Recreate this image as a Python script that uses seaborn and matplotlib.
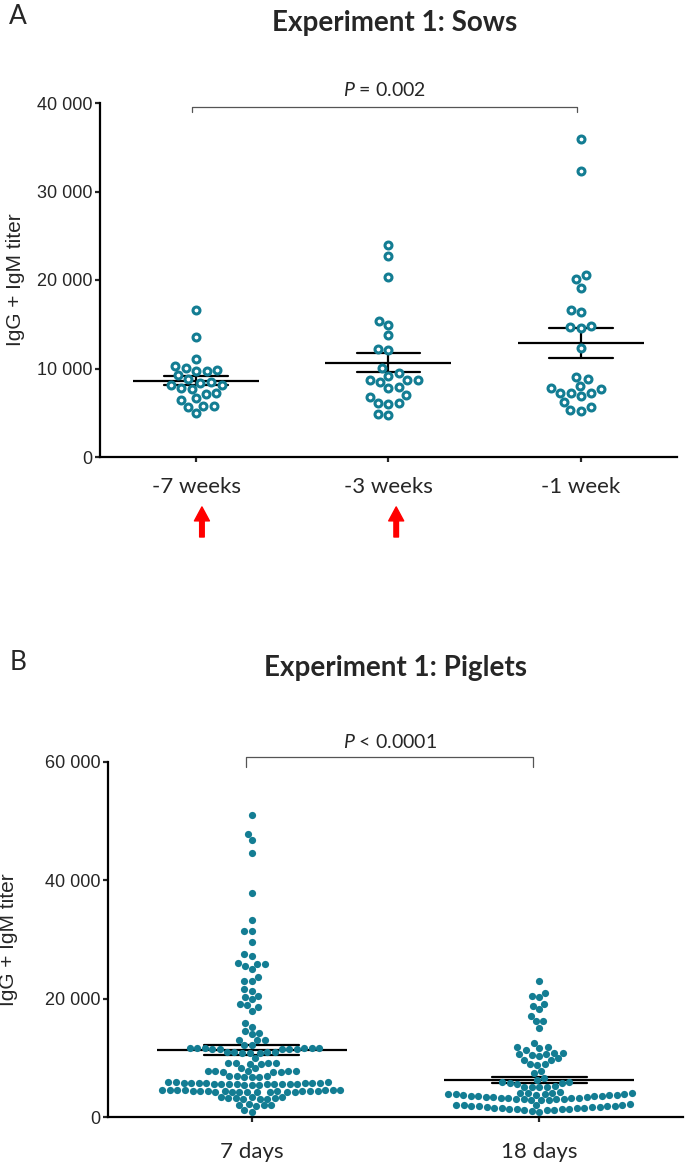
import matplotlib

matplotlib.use("Agg")
import matplotlib.pyplot as plt
import numpy as np
import pandas as pd
import seaborn as sns

TEAL = "#137d93"
GREY = "#555555"

# --------------------------------------------------------------------------- #
# Data
# --------------------------------------------------------------------------- #
sow_groups = ["-7 weeks", "-3 weeks", "-1 week"]
sows_m7 = [16611, 13522, 11036, 10320, 10094, 9831, 9755, 9700, 9266, 8776,
           8512, 8323, 8136, 8100, 7759, 7720, 7194, 7150, 6704, 6441,
           5800, 5760, 5687, 4934]
sows_m3 = [23918, 22713, 20378, 15330, 14953, 13822, 12167, 12091, 10094, 9455,
           9191, 8701, 8680, 8650, 8512, 7947, 7834, 6968, 6817, 6139,
           6064, 5989, 4821, 4790]
sows_m1 = [35934, 32356, 20566, 20076, 19058, 16611, 16348, 14841, 14652, 14610,
           12355, 9077, 8814, 8060, 7759, 7646, 7269, 7230, 7194, 6931,
           6215, 5612, 5311, 5198]
sows_yticks = [0, 10000, 20000, 30000, 40000]

piglet_groups = ["7 days", "18 days"]
piglets_d7 = [51097, 47827, 46813, 44616, 37856, 33349, 31491, 31400, 29518, 27547,
              27265, 25969, 25930, 25890, 25575, 25012, 23717, 22984, 22940, 21577,
              21352, 20449, 20336, 19886, 19097, 18928, 18534, 17972, 15940, 15266,
              14591, 14140, 13971, 13013, 12990, 12950, 12168, 12100,
              11700, 11680, 11650, 11630, 11610, 11590, 11570, 11550, 11530, 11510, 11490,
              11000, 10970, 10940, 10910, 10880, 10850, 10820, 9914,
              9150, 9120, 9090, 9060, 9030, 9000, 8250, 8200,
              7800, 7780, 7750, 7720, 7700, 7680, 7650, 7620,
              6950, 6900, 6850, 6800, 6750, 6700,
              5910, 5870, 5860, 5820, 5790, 5780, 5750, 5720, 5710, 5680, 5660,
              5650, 5630, 5600, 5590, 5560, 5540, 5530, 5500, 5480, 5470, 5440,
              4610, 4580, 4570, 4540, 4510, 4490, 4480, 4450, 4430, 4410, 4400, 4370,
              4360, 4340, 4310, 4300, 4280, 4260, 4240, 4230, 4200, 4190, 4160,
              3420, 3350, 3310, 3240, 3200, 3150, 3090, 3050, 2990,
              2210, 2100, 2040, 1970, 1900, 1183, 901]
piglets_d18 = [23040, 21012, 20449, 20223, 19097, 18759, 18197, 17069, 16224, 16180,
               15097, 12562, 11800, 11773, 11740, 11323, 10900, 10872, 10620, 10590,
               10560, 10309, 9914, 9650, 9633, 8930, 8900, 8870, 7829, 7379,
               6647, 6253, 5990, 5971, 5720, 5689, 5660, 5180, 5150, 5126, 5100, 5080,
               4150, 4100, 4050, 4000, 3980, 3950, 3920, 3890,
               3830, 3790, 3740, 3690, 3650, 3600, 3560, 3510, 3470, 3420, 3380, 3330,
               3290, 3240, 3200, 3150, 3110, 3060, 3020, 2970, 2930, 2890, 2860,
               2140, 2090, 2050, 2000, 1960, 1910, 1870, 1820, 1780, 1730, 1690, 1640,
               1600, 1550, 1510, 1460, 1420, 1370, 1330, 1280, 1240, 1190, 1150,
               950, 850]
piglets_yticks = [0, 20000, 40000, 60000]

sows = pd.DataFrame({
    "group": np.repeat(sow_groups, [len(sows_m7), len(sows_m3), len(sows_m1)]),
    "titer": sows_m7 + sows_m3 + sows_m1,
})
piglets = pd.DataFrame({
    "group": np.repeat(piglet_groups, [len(piglets_d7), len(piglets_d18)]),
    "titer": piglets_d7 + piglets_d18,
})

# --------------------------------------------------------------------------- #
# Style
# --------------------------------------------------------------------------- #
sns.set_theme(style="ticks")
plt.rcParams["font.family"] = ["Liberation Sans", "DejaVu Sans"]
plt.rcParams["mathtext.fontset"] = "custom"
plt.rcParams["mathtext.rm"] = "Lato"
plt.rcParams["mathtext.it"] = "Lato:italic"
plt.rcParams["axes.linewidth"] = 1.6
plt.rcParams["xtick.major.width"] = 1.6
plt.rcParams["ytick.major.width"] = 1.6
plt.rcParams["xtick.major.size"] = 3.8
plt.rcParams["ytick.major.size"] = 3.8
plt.rcParams["axes.edgecolor"] = "black"

W, H = 685, 1163
fig = plt.figure(figsize=(W / 100, H / 100), dpi=100)


def fmt(v):
    return f"{int(v):,}".replace(",", " ")


def panel(rect, df, order, hollow, yticks, mean_len, dot_size, xpad):
    ax = fig.add_axes(rect)
    if hollow:
        sns.swarmplot(data=df, x="group", y="titer", order=order, ax=ax,
                      color="white", edgecolor=TEAL, linewidth=2.2, size=dot_size)
    else:
        sns.swarmplot(data=df, x="group", y="titer", order=order, ax=ax,
                      color=TEAL, linewidth=0, size=dot_size)
    sns.pointplot(data=df, x="group", y="titer", order=order, ax=ax,
                  errorbar="se", capsize=0.33, color="black", markers="_",
                  markersize=mean_len, markeredgewidth=1.6, linestyle="none",
                  err_kws={"linewidth": 1.6})
    ax.set_xlim(-0.5, len(order) - 0.5)
    ax.set_ylim(yticks[0], yticks[-1])
    ax.set_yticks(yticks, [fmt(v) for v in yticks], fontsize=13)
    ax.set_xticks(range(len(order)), order, fontsize=16, fontfamily="Lato")
    ax.tick_params(axis="y", pad=1.5)
    ax.tick_params(axis="x", pad=xpad)
    ax.set_xlabel("")
    ax.set_ylabel("IgG + IgM titer", fontsize=15)
    sns.despine(ax=ax)
    return ax


def bracket(ax, x0, x1, y_top, y_low, label, y_text):
    ax.plot([x0, x0, x1, x1], [y_low, y_top, y_top, y_low], color=GREY,
            lw=0.9, clip_on=False)
    ax.text((x0 + x1) / 2, y_text, label, ha="center", va="center",
            fontsize=14, fontfamily="Lato")


# Panel A ------------------------------------------------------------------- #
axA = panel([100 / W, 1 - 457 / H, 577 / W, 354 / H], sows, sow_groups,
            True, sows_yticks, 91, 5.0, 10.5)
axA.yaxis.set_label_coords(-0.13, 0.5)
bracket(axA, -0.02, 1.98, 39550, 38950, r"$\mathit{P}$ = 0.002", 41450)
for xa in (0.03, 1.04):
    axA.annotate("", xy=(xa, -0.141), xytext=(xa, -0.226),
                 xycoords=axA.get_xaxis_transform(),
                 textcoords=axA.get_xaxis_transform(),
                 annotation_clip=False,
                 arrowprops=dict(arrowstyle="simple,head_length=0.67,head_width=0.72,tail_width=0.22",
                                 color="red", mutation_scale=15, shrinkA=0, shrinkB=0))

# Panel B ------------------------------------------------------------------- #
axB = panel([108 / W, 1 - 1117 / H, 575 / W, 355 / H], piglets, piglet_groups,
            False, piglets_yticks, 137, 5.2, 14)
axB.yaxis.set_label_coords(-0.157, 0.5)
bracket(axB, -0.02, 0.98, 60845, 59155, r"$\mathit{P}$ < 0.0001", 63380)

# Titles and panel letters --------------------------------------------------- #
fig.text(395 / W, 1 - 23 / H, "Experiment 1: Sows", ha="center", va="center",
         fontsize=20, fontweight="bold", fontfamily="Lato")
fig.text(18 / W, 1 - 17 / H, "A", ha="center", va="center", fontsize=19, fontfamily="Lato")
fig.text(395 / W, 1 - 668 / H, "Experiment 1: Piglets", ha="center", va="center",
         fontsize=20, fontweight="bold", fontfamily="Lato")
fig.text(18 / W, 1 - 662 / H, "B", ha="center", va="center", fontsize=19, fontfamily="Lato")

fig.savefig("out.png", dpi=100)
plt.close(fig)
